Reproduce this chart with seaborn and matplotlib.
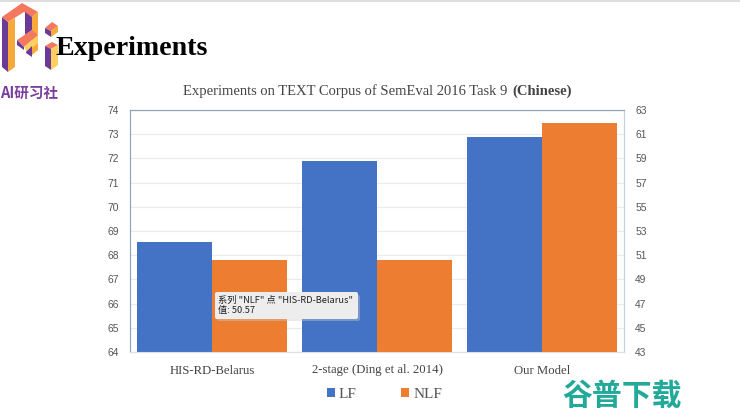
import matplotlib
matplotlib.use("Agg")
import matplotlib.pyplot as plt
from matplotlib.patches import Patch, Polygon, FancyBboxPatch, Rectangle
import pandas as pd
import seaborn as sns

categories = ["HIS-RD-Belarus", "2-stage (Ding et al. 2014)", "Our Model"]
lf_values = [68.55, 71.9, 72.9]
nlf_values = [50.57, 50.62, 61.9]
series = ["LF", "NLF"]
left_ticks = list(range(64, 75))
right_ticks = list(range(43, 64, 2))
colors = {"LF": "#4472C4", "NLF": "#ED7D31"}

sns.set_theme(style="white")
SERIF = "Liberation Serif"
SANS = "Liberation Sans"
W, H = 740, 418
fig = plt.figure(figsize=(W / 100, H / 100), dpi=100, facecolor="white")
ax = fig.add_axes([130 / W, 1 - 352 / H, 494 / W, 242 / H])
ax2 = ax.twinx()

df_lf = pd.DataFrame({"cat": categories, "s": "LF", "v": lf_values})
df_nlf = pd.DataFrame({"cat": categories, "s": "NLF", "v": nlf_values})
sns.barplot(data=df_lf, x="cat", y="v", hue="s", hue_order=series, palette=colors, dodge=True,
            order=categories, width=0.91, gap=0, saturation=1, ax=ax, legend=False, zorder=3,
            linewidth=0)
sns.barplot(data=df_nlf, x="cat", y="v", hue="s", hue_order=series, palette=colors, dodge=True,
            order=categories, width=0.91, gap=0, saturation=1, ax=ax2, legend=False, zorder=3,
            linewidth=0)

ax.set_xlim(-0.5, 2.5)
ax.set_ylim(64, 74)
ax2.set_ylim(43, 63)
ax.set_yticks(left_ticks)
ax2.set_yticks(right_ticks)
ax.set_xlabel("")
ax.set_ylabel("")
ax2.set_xlabel("")
ax2.set_ylabel("")
ax.yaxis.grid(True, color="#EBEBEB", lw=0.8, zorder=0)
ax.set_axisbelow(True)
ax2.grid(False)
ax.tick_params(axis="x", length=0, pad=9, labelsize=9.2, labelcolor="#444444")
ax.tick_params(axis="y", length=0, pad=8, labelsize=7.4, labelcolor="#555555")
ax2.tick_params(axis="y", length=0, pad=8, labelsize=7.4, labelcolor="#555555")
for lab in ax.get_xticklabels():
    lab.set_family(SERIF)
for lab in ax.get_yticklabels() + ax2.get_yticklabels():
    lab.set_family(SANS)
for a in (ax, ax2):
    for name, sp in a.spines.items():
        sp.set_linewidth(0.8)
        sp.set_color({"left": "#8FA6BC", "top": "#8FA6BC", "right": "#C2CFDC",
                      "bottom": "#E0E0E0"}[name])

handles = [Patch(facecolor=colors[s], edgecolor="none", label=s) for s in series]
fig.legend(handles=handles, loc="center", bbox_to_anchor=(384.5 / W, 1 - 394 / H), ncol=2,
           frameon=False, handlelength=0.54, handleheight=0.54, handletextpad=0.27,
           columnspacing=2.9, prop={"family": SERIF, "size": 11}, labelcolor="#555555")

# Slide furniture, in pixel coordinates
ov = fig.add_axes([0, 0, 1, 1], zorder=10)
ov.set_xlim(0, W)
ov.set_ylim(H, 0)
ov.axis("off")
ov.patch.set_alpha(0)

ov.add_patch(Rectangle((0, 0), W, 2, fc="#DDDDDD", ec="none"))

P, O, C, Y = "#6B3A96", "#F7A93B", "#F4785F", "#FBD060"
logo = [
    ([(2, 17), (8, 22), (8, 72), (2, 67)], P),
    ([(8, 22), (15, 18), (15, 67), (8, 72)], O),
    ([(2, 17), (22, 3), (38, 12), (32, 17), (24, 12), (8, 22)], C),
    ([(32, 17), (38, 12), (38, 50), (32, 55)], O),
    ([(25, 12), (32, 17), (32, 30), (25, 35)], P),
    ([(17, 40), (32, 30), (38, 35), (24, 47)], C),
    ([(24, 47), (38, 35), (38, 43), (27, 52)], Y),
    ([(17, 40), (24, 47), (24, 50), (17, 45)], P),
    ([(26, 52), (32, 46), (32, 57), (26, 53)], P),
    ([(45, 28), (52, 22), (58, 26), (51, 31)], C),
    ([(45, 28), (51, 31), (51, 37), (45, 33)], P),
    ([(51, 31), (58, 26), (58, 32), (51, 37)], O),
    ([(45, 46), (52, 42), (58, 45), (51, 49)], C),
    ([(45, 46), (51, 49), (51, 70), (45, 66)], P),
    ([(51, 49), (58, 45), (58, 65), (51, 70)], Y),
]
for pts, c in logo:
    ov.add_patch(Polygon(pts, closed=True, fc=c, ec="none"))

cjk = ["Noto Sans CJK SC", "DejaVu Sans"]
ov.text(0, 93, "AI研习社", family=cjk, weight="bold", size=10.5, color="#7A3E9D", va="center", ha="left")
ov.text(55, 55, "Experiments", family=SERIF, weight="bold", size=20.2, color="black", va="baseline", ha="left")
ov.text(183, 95, "Experiments on TEXT Corpus of SemEval 2016 Task 9", family=SERIF, size=10.5,
        color="#444444", va="baseline", ha="left")
ov.text(512, 95, "(Chinese)", family=SERIF, weight="bold", size=10.5, color="#444444", va="baseline", ha="left")

ov.add_patch(FancyBboxPatch((217, 295), 143, 26, boxstyle="round,pad=0,rounding_size=2",
                            fc="#CCCCCC", ec="none", alpha=0.4))
ov.add_patch(FancyBboxPatch((215, 292), 143, 27, boxstyle="round,pad=0,rounding_size=2",
                            fc="#EDEDED", ec="none"))
ov.text(218, 305.5, '系列 "NLF" 点 "HIS-RD-Belarus"\n值: 50.57', family=cjk, size=6.7,
        color="#222222", va="center", ha="left", linespacing=1.2)

ov.text(622, 396, "谷普下载", family=cjk, weight="bold", size=21.5, color="#22A99A", va="center", ha="center")

fig.savefig("out.png", dpi=100)
